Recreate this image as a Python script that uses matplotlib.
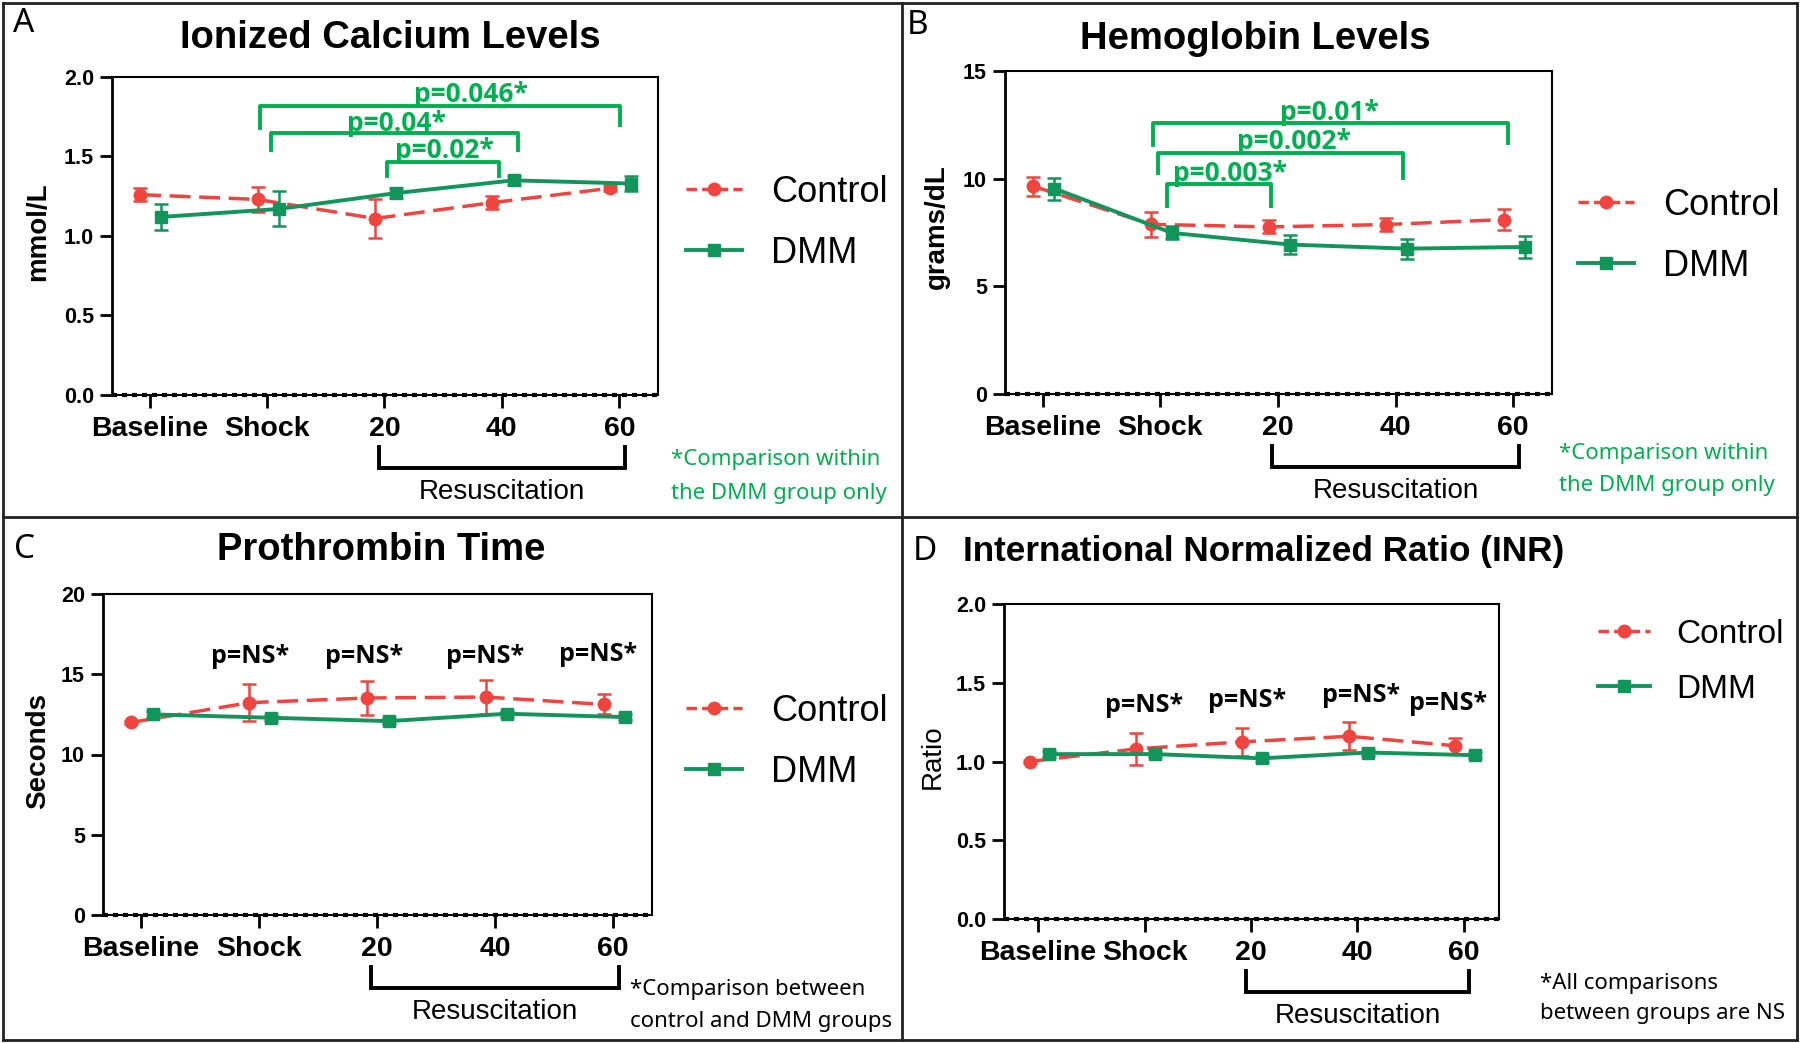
import numpy as np
import matplotlib
matplotlib.use('Agg')
import matplotlib.pyplot as plt
from matplotlib.lines import Line2D

plt.rcParams['font.family'] = ['Liberation Sans', 'DejaVu Sans']

W, H = 1800, 1043
RED = '#f0443f'
DMM_GREEN = '#12955b'
NOTE_GREEN = '#00b050'

x_labels = ['Baseline', 'Shock', '20', '40', '60']
series_names = ['Control', 'DMM']

# A - ionized calcium (mmol/L)
ca_control = [1.26, 1.23, 1.11, 1.21, 1.30]
ca_control_err = [0.04, 0.08, 0.12, 0.04, 0.02]
ca_dmm = [1.12, 1.17, 1.27, 1.35, 1.33]
ca_dmm_err = [0.08, 0.11, 0.03, 0.03, 0.05]
ca_pvals = ['p=0.046*', 'p=0.04*', 'p=0.02*']

# B - hemoglobin (grams/dL)
hb_control = [9.65, 7.88, 7.76, 7.87, 8.10]
hb_control_err = [0.45, 0.57, 0.30, 0.31, 0.49]
hb_dmm = [9.54, 7.48, 6.94, 6.75, 6.83]
hb_dmm_err = [0.51, 0.30, 0.46, 0.46, 0.52]
hb_pvals = ['p=0.01*', 'p=0.002*', 'p=0.003*']

# C - prothrombin time (seconds)
pt_control = [12.0, 13.23, 13.52, 13.58, 13.12]
pt_control_err = [0.1, 1.15, 1.07, 1.07, 0.62]
pt_dmm = [12.5, 12.29, 12.08, 12.54, 12.33]
pt_dmm_err = [0.2, 0.2, 0.2, 0.2, 0.2]
pt_pvals = ['p=NS*', 'p=NS*', 'p=NS*', 'p=NS*']

# D - INR
inr_control = [1.00, 1.08, 1.125, 1.16, 1.10]
inr_control_err = [0.01, 0.10, 0.09, 0.09, 0.05]
inr_dmm = [1.047, 1.047, 1.02, 1.057, 1.04]
inr_dmm_err = [0.02, 0.02, 0.02, 0.02, 0.02]
inr_pvals = ['p=NS*', 'p=NS*', 'p=NS*', 'p=NS*']

fig = plt.figure(figsize=(18, 10.43), dpi=100)


def fx(x):
    return x / W


def fy(y):
    return 1 - y / H


def draw_panel(box, control, control_err, dmm, dmm_err, ylim, yticks, yfmt):
    l, t, r, b = box
    ax = fig.add_axes([fx(l), fy(b), (r - l) / W, (b - t) / H])
    xs = np.arange(len(x_labels))
    eb = ax.errorbar(xs - 0.08, control, yerr=control_err, color=RED, lw=2.5,
                     marker='o', ms=9, capsize=5, elinewidth=1.8, capthick=1.8, zorder=3)
    eb[0].set_dashes([6, 2.5])
    ax.errorbar(xs + 0.1, dmm, yerr=dmm_err, color=DMM_GREEN, lw=2.8,
                marker='s', ms=9, capsize=5, elinewidth=1.8, capthick=1.8, zorder=4)
    ax.set_xlim(-0.32, 4.33)
    ax.set_ylim(*ylim)
    ax.set_xticks(xs)
    ax.set_xticklabels(x_labels, fontsize=20.5, fontweight='bold')
    ax.set_yticks(yticks)
    ax.set_yticklabels([yfmt % v for v in yticks], fontsize=15.5, fontweight='bold')
    ax.tick_params(axis='both', direction='out', length=9, width=2)
    ax.tick_params(axis='x', pad=6)
    ax.tick_params(axis='y', pad=4)
    ax.spines['left'].set_linewidth(2)
    ax.spines['bottom'].set_linewidth(1.5)
    ax.spines['top'].set_linewidth(1.5)
    ax.spines['right'].set_linewidth(1.5)
    ax.axhline(ylim[0], color='k', lw=3, ls=(0, (1.2, 1.2)), clip_on=False, zorder=5)

    # resuscitation bracket under the axis
    h = b - t
    ax.plot([1.95, 1.95, 4.05, 4.05], [-52 / h, -73 / h, -73 / h, -52 / h],
            transform=ax.get_xaxis_transform(), clip_on=False, color='k', lw=2.8,
            solid_joinstyle='miter')
    ax.text(3.0, -97 / h, 'Resuscitation', transform=ax.get_xaxis_transform(),
            ha='center', va='center', fontsize=20)
    return ax


def sig_brackets(ax, pvals, brackets):
    for p, (x1, x2, y, leg1, leg2, tx, ty) in zip(pvals, brackets):
        ax.plot([x1, x1, x2, x2], [leg1, y, y, leg2], color=NOTE_GREEN, lw=2.8,
                clip_on=False, zorder=2)
        ax.text(tx, ty, p, ha='center', va='center', color=NOTE_GREEN, fontsize=19,
                fontweight='bold', family='Open Sans')


def ns_labels(ax, pvals, xs, ys):
    for p, x, y in zip(pvals, xs, ys):
        ax.text(x, y, p, ha='center', va='center', fontsize=18, fontweight='bold',
                family='Open Sans')


def extras(title, tpos, title_fs, title_ha, letter, lpos, ylab, ypos, ybold, leg_x, leg_y, leg_fs,
           note, note_x, note_ys, note_color):
    fig.text(fx(tpos[0]), fy(tpos[1]), title, ha=title_ha, va='center', fontsize=title_fs,
             fontweight='bold')
    fig.text(fx(lpos[0]), fy(lpos[1]), letter, ha='center', va='center', fontsize=24, family='Noto Sans')
    fig.text(fx(ypos[0]), fy(ypos[1]), ylab, ha='center', va='center', rotation=90, fontsize=20,
             fontweight='bold' if ybold else 'normal')
    handles = [Line2D([], [], color=RED, lw=2.5, dashes=[3, 1.5], marker='o', ms=9),
               Line2D([], [], color=DMM_GREEN, lw=2.8, marker='s', ms=9)]
    fig.legend(handles, series_names, loc='center left', bbox_to_anchor=(fx(leg_x), fy(leg_y)),
               frameon=False, fontsize=leg_fs, handlelength=1.55, handletextpad=0.8,
               labelspacing=0.72, borderpad=0, borderaxespad=0)
    for line, y in zip(note, note_ys):
        fig.text(fx(note_x), fy(y), line, ha='left', va='center', fontsize=16,
                 family='Noto Sans', color=note_color)


# panel A
axA = draw_panel((112, 77, 658, 395), ca_control, ca_control_err, ca_dmm, ca_dmm_err,
                 (0, 2.0), [0, 0.5, 1.0, 1.5, 2.0], '%.1f')
sig_brackets(axA, ca_pvals, [(0.94, 4.01, 1.82, 1.68, 1.70, 2.74, 1.89),
                             (1.03, 3.14, 1.65, 1.54, 1.54, 2.10, 1.71),
                             (2.02, 2.98, 1.465, 1.38, 1.38, 2.51, 1.54)])
extras('Ionized Calcium Levels', (390, 38), 27.5, 'center', 'A', (24, 24), 'mmol/L', (38, 232), True,
       686, 223, 26, ['*Comparison within', 'the DMM group only'], 671, (460, 493), NOTE_GREEN)

# panel B
axB = draw_panel((1005, 71, 1552, 394), hb_control, hb_control_err, hb_dmm, hb_dmm_err,
                 (0, 15), [0, 5, 10, 15], '%d')
sig_brackets(axB, hb_pvals, [(0.934, 3.96, 12.57, 11.56, 11.67, 2.44, 13.06),
                             (0.98, 3.06, 11.17, 10.24, 10.05, 2.14, 11.72),
                             (1.055, 1.944, 9.73, 8.73, 8.73, 1.59, 10.26)])
extras('Hemoglobin Levels', (1255, 39), 27.5, 'center', 'B', (918, 25), 'grams/dL', (937, 227), True,
       1578, 236, 26, ['*Comparison within', 'the DMM group only'], 1559, (454, 486), NOTE_GREEN)

# panel C
axC = draw_panel((103, 594, 652, 915), pt_control, pt_control_err, pt_dmm, pt_dmm_err,
                 (0, 20), [0, 5, 10, 15, 20], '%d')
ns_labels(axC, pt_pvals, [0.925, 1.89, 2.92, 3.87], [16.08, 16.08, 16.08, 16.2])
extras('Prothrombin Time', (381, 550), 27.5, 'center', 'C', (24, 550), 'Seconds', (38, 751), True,
       686, 742, 26, ['*Comparison between', 'control and DMM groups'], 630, (990, 1022), 'black')

# panel D
axD = draw_panel((1004, 604, 1499, 919), inr_control, inr_control_err, inr_dmm, inr_dmm_err,
                 (0, 2.0), [0, 0.5, 1.0, 1.5, 2.0], '%.1f')
ns_labels(axD, inr_pvals, [0.995, 1.96, 3.03, 3.85], [1.355, 1.387, 1.42, 1.366])
extras('International Normalized Ratio (INR)', (963, 552), 25.3, 'left', 'D', (925, 551), 'Ratio', (933, 757),
       False, 1598, 662, 24, ['*All comparisons', 'between groups are NS'], 1540, (983, 1013), 'black')

# panel frame lines
for xs_, ys_ in [([3, 1797], [3, 3]), ([3, 1797], [1040, 1040]), ([3, 3], [3, 1040]),
                 ([1797, 1797], [3, 1040]), ([902, 902], [3, 1040]), ([3, 1797], [517, 517])]:
    fig.add_artist(Line2D([fx(v) for v in xs_], [fy(v) for v in ys_], color='#222222', lw=2))

fig.savefig('out.png', dpi=100)
